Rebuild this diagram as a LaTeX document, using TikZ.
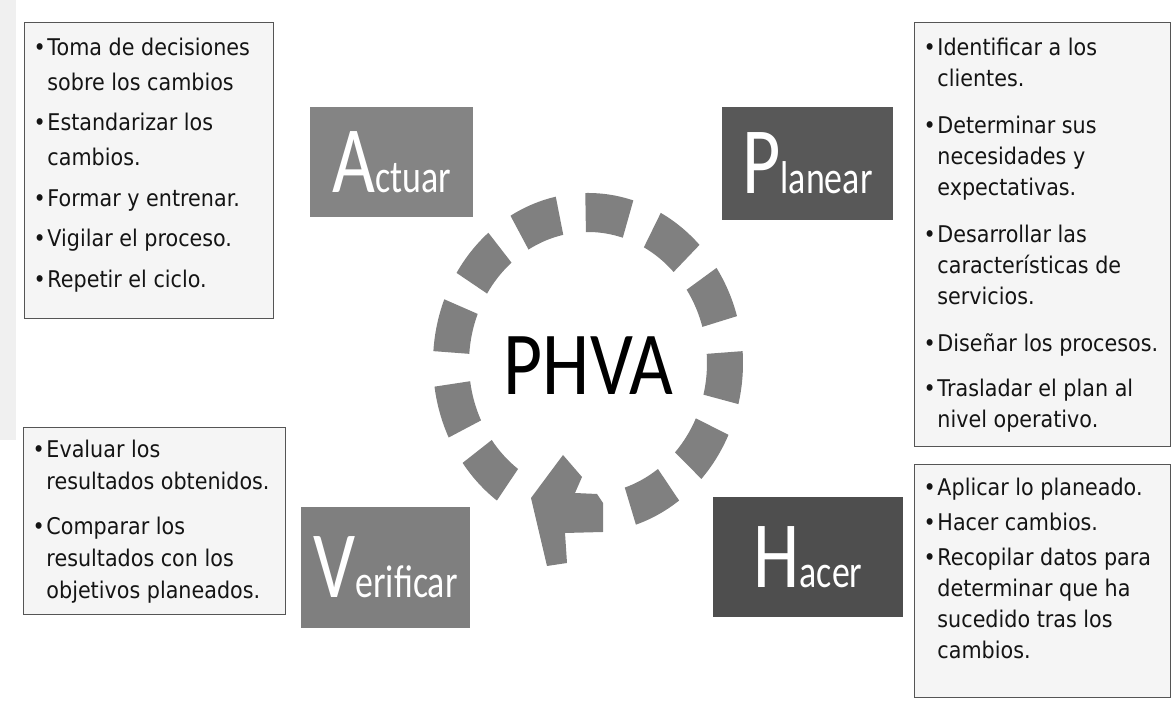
\documentclass[tikz,border=0pt]{standalone}
\usepackage{fontspec}
\setmainfont{DejaVu Sans}
\newfontfamily\listfont[FakeStretch=0.9]{DejaVu Sans}
\newfontfamily\labelfont[FakeStretch=0.78]{Carlito}
\newfontfamily\titlefont[FakeStretch=0.84]{Carlito}
\usetikzlibrary{calc}
\definecolor{actgray}{RGB}{132,132,132}
\definecolor{vergray}{RGB}{127,127,127}
\definecolor{plngray}{RGB}{88,88,88}
\definecolor{hcgray}{RGB}{78,78,78}
\definecolor{ringgray}{RGB}{128,128,128}
\definecolor{listfill}{RGB}{245,245,245}
\definecolor{listline}{RGB}{85,85,85}
\definecolor{listtext}{RGB}{20,20,20}
\newcommand{\biglbl}[2]{{\fontsize{95}{95}\selectfont #1}{\fontsize{46}{46}\selectfont #2}}
\newcommand{\blt}{\llap{•\hspace{1.5pt}}}
\newcommand{\firstline}{\rule{0pt}{18pt}}
% fixed-size text area; lines may run past its right edge without wrapping
\newcommand{\listarea}[3]{\makebox[#1][l]{\parbox[c][#2][t]{500pt}{#3}}}
\tikzset{
  lblbox/.style={inner sep=0pt,text=white,font=\labelfont,align=center},
  listbox/.style={draw=listline,fill=listfill,line width=0.9pt,anchor=north west,
    inner xsep=23pt,text=listtext,font=\listfont},
  ringseg/.style={fill=ringgray},
}

\begin{document}
\begin{tikzpicture}[x=1pt,y=1pt]
  \useasboundingbox (0,0) rectangle (1171,708);
  \fill[white] (0,0) rectangle (1171,708);
  \fill[black!6] (0,268) rectangle (16,708);

  % cycle ring
  \coordinate (ringc) at (588,345);
  \foreach \a in {111,82,53,25,-5,-34,-63,-135,-163,167,139}
    \fill[ringseg] ($(ringc)+({\a-9}:155 and 170)$)
      arc[start angle=\a-9,end angle=\a+9,x radius=155,y radius=170]
      -- ($(ringc)+({\a+9}:119 and 131)$)
      arc[start angle=\a+9,end angle=\a-9,x radius=119,y radius=131] -- cycle;
  \fill[ringseg] (563,253) -- (582,231) -- (575,215) -- (597,214) -- (603,205)
    -- (603,176) -- (565,175) -- (567,145) -- (547,142) -- (531,210) -- cycle;
  \node (phva) at (588.5,342) {\titlefont\fontsize{90}{90}\selectfont PHVA};

  % stage labels
  \node[lblbox,fill=actgray,minimum width=163,minimum height=110] (actuar) at (391.5,546) {\biglbl{A}{ctuar}};
  \node[lblbox,fill=plngray,minimum width=171,minimum height=113] (planear) at (807.5,544.5) {\biglbl{P}{lanear}};
  \node[lblbox,fill=vergray,minimum width=169,minimum height=121] (verificar) at (385.5,140.5) {\biglbl{V}{erificar}};
  \node[lblbox,fill=hcgray,minimum width=190,minimum height=120] (hacer) at (808,151) {\biglbl{H}{acer}};

  % lists
  \node[listbox,inner ysep=15pt] (actuarlist) at (24,686) {\listarea{203pt}{266pt}{\fontsize{23}{35}\selectfont
    \firstline\blt Toma de decisiones\\
    sobre los cambios\\[5.5pt]
    \blt Estandarizar los\\
    cambios.\\[5.5pt]
    \blt Formar y entrenar.\\[5.5pt]
    \blt Vigilar el proceso.\\[5.5pt]
    \blt Repetir el ciclo.}};
  \node[listbox,inner ysep=15pt] (planearlist) at (914,686) {\listarea{210pt}{394pt}{\fontsize{23}{31}\selectfont
    \firstline\blt Identificar a los\\
    clientes.\\[16pt]
    \blt Determinar sus\\
    necesidades y\\
    expectativas.\\[16pt]
    \blt Desarrollar las\\
    características de\\
    servicios.\\[16pt]
    \blt Diseñar los procesos.\\[14pt]
    \blt Trasladar el plan al\\
    nivel operativo.}};
  \node[listbox,inner ysep=12pt] (verificarlist) at (23,281) {\listarea{216pt}{163pt}{\fontsize{23}{32}\selectfont
    \firstline\blt Evaluar los\\
    resultados obtenidos.\\[13pt]
    \blt Comparar los\\
    resultados con los\\
    objetivos planeados.}};
  \node[listbox,inner ysep=13pt] (hacerlist) at (914,244) {\listarea{210pt}{207pt}{\fontsize{23}{31}\selectfont
    \firstline\blt Aplicar lo planeado.\\[4pt]
    \blt Hacer cambios.\\[4pt]
    \blt Recopilar datos para\\
    determinar que ha\\
    sucedido tras los\\
    cambios.}};
\end{tikzpicture}
\end{document}
